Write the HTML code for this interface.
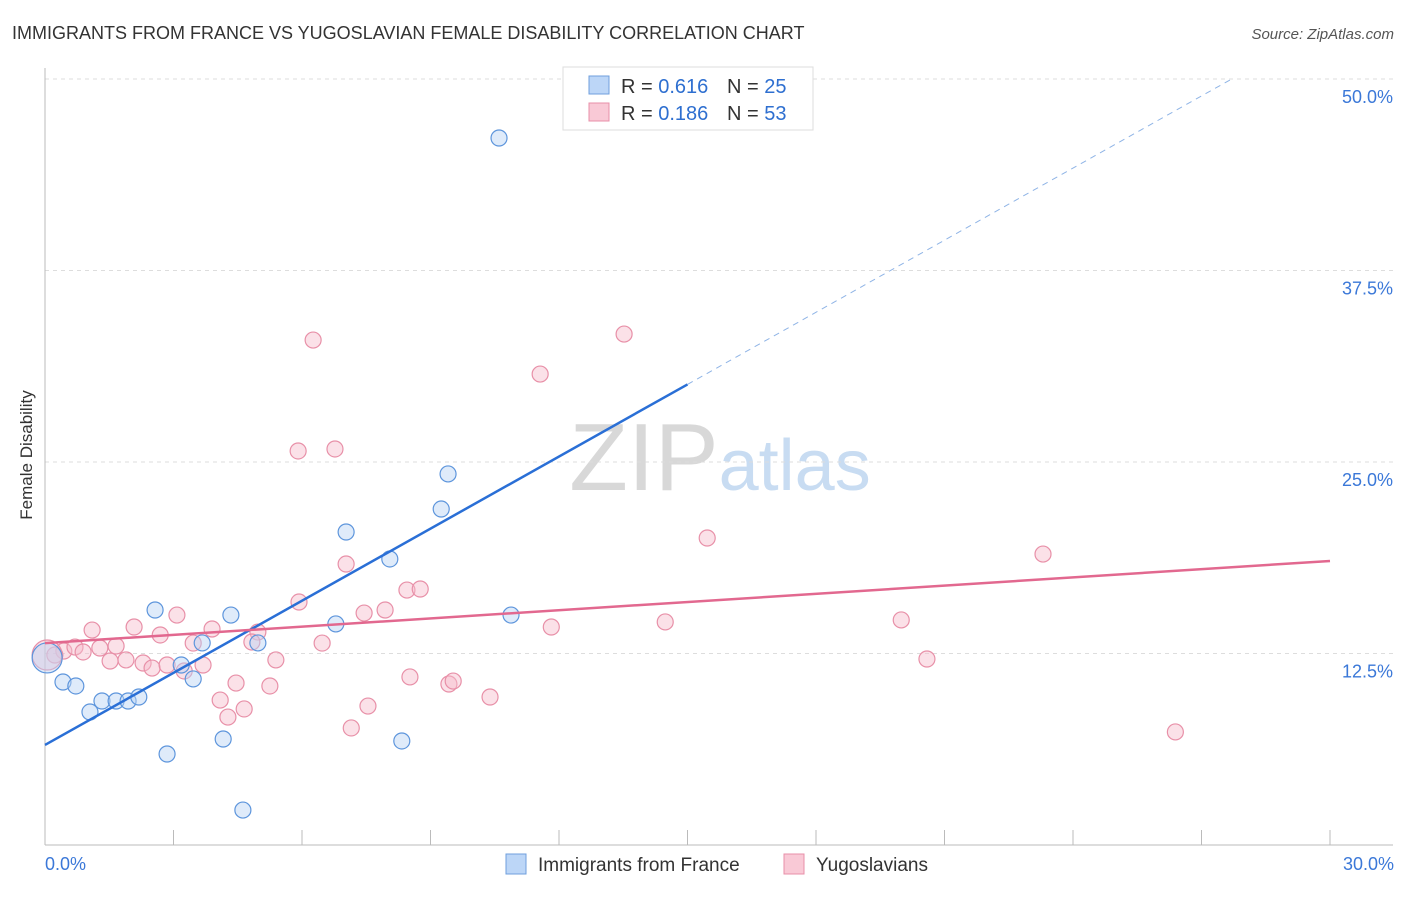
<!DOCTYPE html>
<html><head><meta charset="utf-8"><style>
body{margin:0;background:#fff;font-family:"Liberation Sans",sans-serif}
svg text{font-family:"Liberation Sans",sans-serif}
</style></head><body>
<svg id="c" width="1406" height="892">
<text x="12" y="39" font-size="18" fill="#333">IMMIGRANTS FROM FRANCE VS YUGOSLAVIAN FEMALE DISABILITY CORRELATION CHART</text>
<text x="1394" y="39" font-size="15" fill="#555" font-style="italic" text-anchor="end">Source: ZipAtlas.com</text>
<text x="32" y="455" font-size="17" fill="#333" transform="rotate(-90 32 455)" text-anchor="middle">Female Disability</text>
<text x="720" y="490" font-size="96" fill="#ddd" text-anchor="middle" font-family="Liberation Serif"><tspan fill="#d8d8d8">ZIP</tspan><tspan fill="#c8dcf2" font-family="Liberation Sans" font-size="72">atlas</tspan></text>
<g id="grid"></g><g id="marks"></g>
<g>
<rect x="563" y="67" width="250" height="63" fill="#fff" stroke="#ddd"/>
<rect x="589" y="76" width="20" height="18" fill="#bcd6f7" stroke="#6f9fdc"/>
<text x="621" y="93" font-size="20" fill="#333">R = <tspan fill="#2e6fd0">0.616</tspan></text>
<text x="727" y="93" font-size="20" fill="#333">N = <tspan fill="#2e6fd0">25</tspan></text>
<rect x="589" y="103" width="20" height="18" fill="#f9c9d6" stroke="#e88fa8"/>
<text x="621" y="120" font-size="20" fill="#333">R = <tspan fill="#2e6fd0">0.186</tspan></text>
<text x="727" y="120" font-size="20" fill="#333">N = <tspan fill="#2e6fd0">53</tspan></text>
</g>
<g>
<rect x="506" y="854" width="20" height="20" fill="#bcd6f7" stroke="#6f9fdc"/>
<text x="538" y="871" font-size="19" fill="#333">Immigrants from France</text>
<rect x="784" y="854" width="20" height="20" fill="#f9c9d6" stroke="#e88fa8"/>
<text x="816" y="871" font-size="19" fill="#333">Yugoslavians</text>
</g>
</svg>
<script>
const yTicks=[12.5,25,37.5,50];
const xTickLabels=["0.0%","30.0%"];
const blueX=[10.60,9.41,9.25,7.03,8.05,2.57,4.34,10.88,6.79,3.67,4.97,3.18,3.46,0.42,0.72,1.33,1.66,1.94,2.19,1.05,4.16,8.33,2.85,4.62,0.05];
const blueY=[46.15,24.22,21.93,20.43,18.67,15.34,15.01,15.01,14.43,13.19,13.19,11.75,10.84,10.64,10.38,9.40,9.40,9.40,9.66,8.68,6.92,6.79,5.94,2.28,12.21];
const pinkX=[6.26,13.52,11.56,5.91,6.77,15.46,23.30,7.03,8.45,8.76,5.93,7.45,7.94,1.10,2.08,3.08,3.90,2.69,4.97,3.46,4.83,6.47,11.82,14.48,19.99,0.44,0.70,1.66,1.28,0.89,1.52,1.89,2.29,2.50,2.85,3.25,3.69,5.39,20.59,4.46,5.25,4.09,8.52,9.43,9.53,10.39,4.27,4.65,7.54,7.15,26.39,0.23,0.05];
const pinkY=[32.96,33.35,30.74,25.72,25.85,20.04,18.99,18.34,16.64,16.71,15.86,15.14,15.34,14.03,14.23,15.01,14.10,13.71,13.90,13.18,13.25,13.18,14.23,14.56,14.69,12.66,12.92,12.99,12.86,12.60,12.01,12.08,11.88,11.55,11.75,11.36,11.75,12.08,12.14,10.57,10.38,9.46,10.97,10.51,10.70,9.66,8.35,8.88,9.07,7.64,7.38,12.40,12.40];
const blueTrend=[6.53,1.569];
const pinkTrend=[13.18,0.1787];
const X=v=>45+v/30*1285, Y=v=>845-v/50*766;
const NS='http://www.w3.org/2000/svg';
function mk(t,a,p){const e=document.createElementNS(NS,t);for(const k in a)e.setAttribute(k,a[k]);p.appendChild(e);return e;}
const g=document.getElementById('grid'), m=document.getElementById('marks');
yTicks.forEach(v=>{
 const l=mk('line',{x1:45,x2:1393,y1:Y(v),y2:Y(v),stroke:'#ddd','stroke-dasharray':'4,4'},g);
 
 
 const t=mk('text',{x:1393,y:Y(v)+24,'font-size':18,fill:'#3b78d8','text-anchor':'end'},g);t.textContent=v.toFixed(1)+'%';
 
 
});
mk('line',{x1:45,x2:45,y1:68,y2:845,stroke:'#bbb'},g);
mk('line',{x1:45,x2:1393,y1:845,y2:845,stroke:'#bbb'},g);
for(let i=1;i<=10;i++){const t=mk('line',{x1:X(i*3),x2:X(i*3),y1:830,y2:845,stroke:'#bbb'},g);
 
 }
[[0,'start',45],[30,'end',1394]].forEach((d,i)=>{const t=mk('text',{x:d[2],y:870,'font-size':18,fill:'#3b78d8','text-anchor':d[1]},g);t.textContent=xTickLabels[i];
 
 });
function dots(xs,ys,fill,stroke,name){xs.forEach((x,i)=>{const big=x<0.1;
 const c=mk('circle',{cx:X(x),cy:Y(ys[i]),r:big?15:8,fill,'fill-opacity':0.45,stroke,'stroke-width':1.2},m);
 
 });}
dots(pinkX,pinkY,'#f7bccb','#e890a8','yugoslavians-point');
dots(blueX,blueY,'#b8d3f5','#5d95dc','france-point');
const bl=mk('line',{x1:X(0),y1:Y(blueTrend[0]),x2:X(15),y2:Y(blueTrend[0]+blueTrend[1]*15),stroke:'#2a6fd6','stroke-width':2.5},m);


const xe=(50-blueTrend[0])/blueTrend[1];
const bd=mk('line',{x1:X(15),y1:Y(blueTrend[0]+blueTrend[1]*15),x2:X(xe),y2:Y(50),stroke:'#8fb4e6','stroke-width':1,'stroke-dasharray':'6,5'},m);


const pl=mk('line',{x1:X(0),y1:Y(pinkTrend[0]),x2:X(30),y2:Y(pinkTrend[0]+pinkTrend[1]*30),stroke:'#e2688f','stroke-width':2.5},m);


</script>
</body></html>
